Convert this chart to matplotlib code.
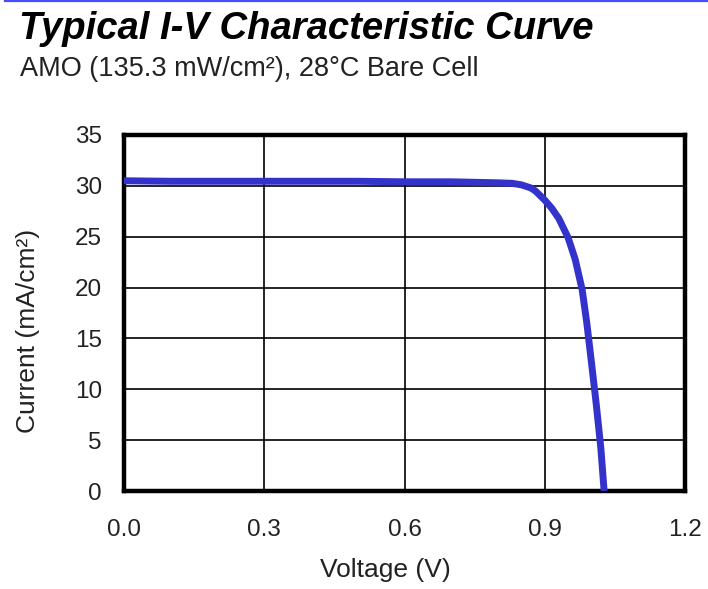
import matplotlib
matplotlib.use("Agg")
import matplotlib.pyplot as plt
from matplotlib.lines import Line2D

voltage = [0.0, 0.1, 0.2, 0.3, 0.4, 0.5, 0.6, 0.7, 0.75, 0.8, 0.83, 0.85, 0.87,
           0.88, 0.9, 0.915, 0.93, 0.95, 0.965, 0.98, 0.99, 1.0, 1.01, 1.02, 1.027]
current = [30.5, 30.45, 30.45, 30.45, 30.45, 30.45, 30.4, 30.4, 30.35, 30.3, 30.25,
           30.1, 29.8, 29.5, 28.6, 27.8, 26.8, 24.9, 22.8, 19.8, 16.5, 12.6, 8.6, 4.2, 0.0]
xticks = [0.0, 0.3, 0.6, 0.9, 1.2]
xticklabels = ["0.0", "0.3", "0.6", "0.9", "1.2"]
yticks = [0, 5, 10, 15, 20, 25, 30, 35]

plt.rcParams['font.family'] = ['Liberation Sans', 'DejaVu Sans']

W, H = 708, 589
fig = plt.figure(figsize=(W / 100, H / 100), dpi=100)

# blue rule at very top
fig.add_artist(Line2D([5 / W, 1.0], [1 - 1 / H, 1 - 1 / H], transform=fig.transFigure,
                      color='#4a4aff', linewidth=1.6))

fig.text(19 / W, 1 - 39 / H, "Typical I-V Characteristic Curve", fontsize=27.5,
         fontweight='bold', fontstyle='italic', ha='left', va='baseline', color='black')
fig.text(20 / W, 1 - 76 / H, "AMO (135.3 mW/cm²), 28°C Bare Cell", fontsize=19.5,
         ha='left', va='baseline', color='#222222')

ax = fig.add_axes([124 / W, 98 / H, 561 / W, 356 / H])
ax.plot(voltage, current, color='#3333cc', linewidth=5, solid_capstyle='butt',
        solid_joinstyle='round', zorder=3)
ax.set_xlim(0, 1.2)
ax.set_ylim(0, 35)
ax.set_xticks(xticks)
ax.set_xticklabels(xticklabels)
ax.set_yticks(yticks)
ax.grid(True, color='black', linewidth=1.2)
ax.set_axisbelow(True)
for s in ax.spines.values():
    s.set_linewidth(3.2)
    s.set_color('black')
ax.tick_params(axis='both', length=0, labelsize=17.5, colors='#222222')
ax.tick_params(axis='x', pad=20)
ax.tick_params(axis='y', pad=16)

fig.text(385 / W, 1 - 570 / H, "Voltage (V)", fontsize=19, ha='center', va='center',
         color='#222222')
fig.text(28 / W, 1 - 331 / H, "Current (mA/cm²)", fontsize=19, rotation=90,
         ha='center', va='center', color='#222222')

fig.savefig("out.png", dpi=100)
